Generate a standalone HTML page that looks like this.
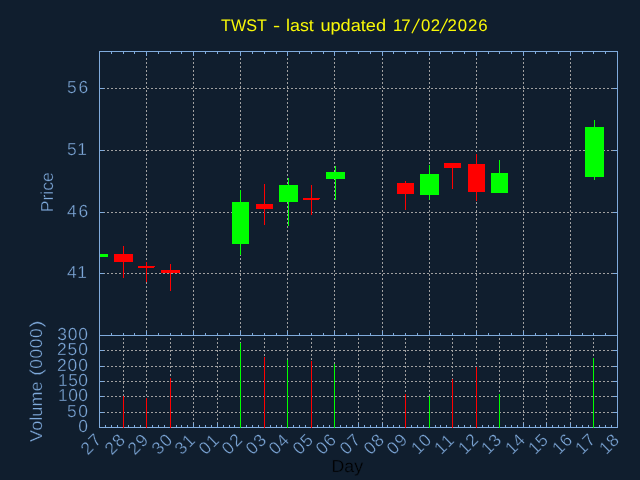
<!DOCTYPE html>
<html><head><meta charset="utf-8"><title>TWST</title>
<style>html,body{margin:0;padding:0;background:#101E2E;overflow:hidden}svg{display:block;will-change:transform}text{font-family:"Liberation Sans",sans-serif;font-size:17.4px;stroke:#101E2E;stroke-width:0.35px;text-rendering:geometricPrecision}text.t{stroke:none;font-size:16.8px}</style></head><body>
<svg width="640" height="480" viewBox="0 0 640 480">
<rect x="0" y="0" width="640" height="480" fill="#101E2E"/>
<g stroke="#A0A0A0" stroke-width="1" stroke-dasharray="2,2" fill="none" shape-rendering="crispEdges">
<line x1="146.5" y1="336" x2="146.5" y2="51"/>
<line x1="193.5" y1="336" x2="193.5" y2="51"/>
<line x1="240.5" y1="336" x2="240.5" y2="51"/>
<line x1="287.5" y1="336" x2="287.5" y2="51"/>
<line x1="334.5" y1="336" x2="334.5" y2="51"/>
<line x1="382.5" y1="336" x2="382.5" y2="51"/>
<line x1="429.5" y1="336" x2="429.5" y2="51"/>
<line x1="476.5" y1="336" x2="476.5" y2="51"/>
<line x1="523.5" y1="336" x2="523.5" y2="51"/>
<line x1="570.5" y1="336" x2="570.5" y2="51"/>
<line x1="99" y1="273.5" x2="618" y2="273.5"/>
<line x1="99" y1="212.5" x2="618" y2="212.5"/>
<line x1="99" y1="150.5" x2="618" y2="150.5"/>
<line x1="99" y1="88.5" x2="618" y2="88.5"/>
<line x1="123.5" y1="428" x2="123.5" y2="335"/>
<line x1="146.5" y1="428" x2="146.5" y2="335"/>
<line x1="170.5" y1="428" x2="170.5" y2="335"/>
<line x1="193.5" y1="428" x2="193.5" y2="335"/>
<line x1="217.5" y1="428" x2="217.5" y2="335"/>
<line x1="240.5" y1="428" x2="240.5" y2="335"/>
<line x1="264.5" y1="428" x2="264.5" y2="335"/>
<line x1="287.5" y1="428" x2="287.5" y2="335"/>
<line x1="311.5" y1="428" x2="311.5" y2="335"/>
<line x1="334.5" y1="428" x2="334.5" y2="335"/>
<line x1="358.5" y1="428" x2="358.5" y2="335"/>
<line x1="382.5" y1="428" x2="382.5" y2="335"/>
<line x1="405.5" y1="428" x2="405.5" y2="335"/>
<line x1="429.5" y1="428" x2="429.5" y2="335"/>
<line x1="452.5" y1="428" x2="452.5" y2="335"/>
<line x1="476.5" y1="428" x2="476.5" y2="335"/>
<line x1="499.5" y1="428" x2="499.5" y2="335"/>
<line x1="523.5" y1="428" x2="523.5" y2="335"/>
<line x1="546.5" y1="428" x2="546.5" y2="335"/>
<line x1="570.5" y1="428" x2="570.5" y2="335"/>
<line x1="593.5" y1="428" x2="593.5" y2="335"/>
<line x1="99" y1="412.5" x2="618" y2="412.5"/>
<line x1="99" y1="396.5" x2="618" y2="396.5"/>
<line x1="99" y1="381.5" x2="618" y2="381.5"/>
<line x1="99" y1="366.5" x2="618" y2="366.5"/>
<line x1="99" y1="350.5" x2="618" y2="350.5"/>
</g>
<g shape-rendering="crispEdges">
<rect x="100" y="254" width="8" height="3" fill="#00FF00"/>
<rect x="114" y="254" width="19" height="8" fill="#FF0000"/>
<rect x="123" y="246" width="1" height="32" fill="#FF0000"/>
<rect x="138" y="266" width="17" height="1" fill="#FF0000"/>
<rect x="146" y="262" width="1" height="20" fill="#FF0000"/>
<rect x="138" y="267" width="16" height="1" fill="#FF0000"/>
<rect x="161" y="270" width="19" height="3" fill="#FF0000"/>
<rect x="170" y="264" width="1" height="27" fill="#FF0000"/>
<rect x="232" y="202" width="17" height="42" fill="#00FF00"/>
<rect x="240" y="190" width="1" height="65" fill="#00FF00"/>
<rect x="256" y="204" width="17" height="5" fill="#FF0000"/>
<rect x="264" y="184" width="1" height="41" fill="#FF0000"/>
<rect x="279" y="185" width="19" height="17" fill="#00FF00"/>
<rect x="288" y="178" width="1" height="48" fill="#00FF00"/>
<rect x="303" y="198" width="17" height="1" fill="#FF0000"/>
<rect x="311" y="185" width="1" height="30" fill="#FF0000"/>
<rect x="303" y="199" width="16" height="1" fill="#FF0000"/>
<rect x="326" y="172" width="19" height="7" fill="#00FF00"/>
<rect x="335" y="166" width="1" height="34" fill="#00FF00"/>
<rect x="397" y="183" width="17" height="11" fill="#FF0000"/>
<rect x="405" y="181" width="1" height="29" fill="#FF0000"/>
<rect x="420" y="174" width="19" height="21" fill="#00FF00"/>
<rect x="429" y="165" width="1" height="35" fill="#00FF00"/>
<rect x="444" y="163" width="17" height="5" fill="#FF0000"/>
<rect x="452" y="163" width="1" height="26" fill="#FF0000"/>
<rect x="468" y="164" width="17" height="28" fill="#FF0000"/>
<rect x="476" y="154" width="1" height="47" fill="#FF0000"/>
<rect x="491" y="173" width="17" height="20" fill="#00FF00"/>
<rect x="499" y="160" width="1" height="33" fill="#00FF00"/>
<rect x="585" y="127" width="19" height="50" fill="#00FF00"/>
<rect x="594" y="120" width="1" height="60" fill="#00FF00"/>
</g>
<g stroke="#80ABDC" stroke-width="1" fill="none" shape-rendering="crispEdges">
<rect x="99.5" y="51.5" width="518" height="284"/>
<rect x="99.5" y="335.5" width="518" height="92"/>
<line x1="99.5" y1="336" x2="99.5" y2="331"/>
<line x1="99.5" y1="51" x2="99.5" y2="56"/>
<line x1="111.5" y1="336" x2="111.5" y2="333"/>
<line x1="111.5" y1="51" x2="111.5" y2="54"/>
<line x1="123.5" y1="336" x2="123.5" y2="333"/>
<line x1="123.5" y1="51" x2="123.5" y2="54"/>
<line x1="134.5" y1="336" x2="134.5" y2="333"/>
<line x1="134.5" y1="51" x2="134.5" y2="54"/>
<line x1="146.5" y1="336" x2="146.5" y2="331"/>
<line x1="146.5" y1="51" x2="146.5" y2="56"/>
<line x1="158.5" y1="336" x2="158.5" y2="333"/>
<line x1="158.5" y1="51" x2="158.5" y2="54"/>
<line x1="170.5" y1="336" x2="170.5" y2="333"/>
<line x1="170.5" y1="51" x2="170.5" y2="54"/>
<line x1="181.5" y1="336" x2="181.5" y2="333"/>
<line x1="181.5" y1="51" x2="181.5" y2="54"/>
<line x1="193.5" y1="336" x2="193.5" y2="331"/>
<line x1="193.5" y1="51" x2="193.5" y2="56"/>
<line x1="205.5" y1="336" x2="205.5" y2="333"/>
<line x1="205.5" y1="51" x2="205.5" y2="54"/>
<line x1="217.5" y1="336" x2="217.5" y2="333"/>
<line x1="217.5" y1="51" x2="217.5" y2="54"/>
<line x1="229.5" y1="336" x2="229.5" y2="333"/>
<line x1="229.5" y1="51" x2="229.5" y2="54"/>
<line x1="240.5" y1="336" x2="240.5" y2="331"/>
<line x1="240.5" y1="51" x2="240.5" y2="56"/>
<line x1="252.5" y1="336" x2="252.5" y2="333"/>
<line x1="252.5" y1="51" x2="252.5" y2="54"/>
<line x1="264.5" y1="336" x2="264.5" y2="333"/>
<line x1="264.5" y1="51" x2="264.5" y2="54"/>
<line x1="276.5" y1="336" x2="276.5" y2="333"/>
<line x1="276.5" y1="51" x2="276.5" y2="54"/>
<line x1="287.5" y1="336" x2="287.5" y2="331"/>
<line x1="287.5" y1="51" x2="287.5" y2="56"/>
<line x1="299.5" y1="336" x2="299.5" y2="333"/>
<line x1="299.5" y1="51" x2="299.5" y2="54"/>
<line x1="311.5" y1="336" x2="311.5" y2="333"/>
<line x1="311.5" y1="51" x2="311.5" y2="54"/>
<line x1="323.5" y1="336" x2="323.5" y2="333"/>
<line x1="323.5" y1="51" x2="323.5" y2="54"/>
<line x1="334.5" y1="336" x2="334.5" y2="331"/>
<line x1="334.5" y1="51" x2="334.5" y2="56"/>
<line x1="346.5" y1="336" x2="346.5" y2="333"/>
<line x1="346.5" y1="51" x2="346.5" y2="54"/>
<line x1="358.5" y1="336" x2="358.5" y2="333"/>
<line x1="358.5" y1="51" x2="358.5" y2="54"/>
<line x1="370.5" y1="336" x2="370.5" y2="333"/>
<line x1="370.5" y1="51" x2="370.5" y2="54"/>
<line x1="382.5" y1="336" x2="382.5" y2="331"/>
<line x1="382.5" y1="51" x2="382.5" y2="56"/>
<line x1="393.5" y1="336" x2="393.5" y2="333"/>
<line x1="393.5" y1="51" x2="393.5" y2="54"/>
<line x1="405.5" y1="336" x2="405.5" y2="333"/>
<line x1="405.5" y1="51" x2="405.5" y2="54"/>
<line x1="417.5" y1="336" x2="417.5" y2="333"/>
<line x1="417.5" y1="51" x2="417.5" y2="54"/>
<line x1="429.5" y1="336" x2="429.5" y2="331"/>
<line x1="429.5" y1="51" x2="429.5" y2="56"/>
<line x1="440.5" y1="336" x2="440.5" y2="333"/>
<line x1="440.5" y1="51" x2="440.5" y2="54"/>
<line x1="452.5" y1="336" x2="452.5" y2="333"/>
<line x1="452.5" y1="51" x2="452.5" y2="54"/>
<line x1="464.5" y1="336" x2="464.5" y2="333"/>
<line x1="464.5" y1="51" x2="464.5" y2="54"/>
<line x1="476.5" y1="336" x2="476.5" y2="331"/>
<line x1="476.5" y1="51" x2="476.5" y2="56"/>
<line x1="488.5" y1="336" x2="488.5" y2="333"/>
<line x1="488.5" y1="51" x2="488.5" y2="54"/>
<line x1="499.5" y1="336" x2="499.5" y2="333"/>
<line x1="499.5" y1="51" x2="499.5" y2="54"/>
<line x1="511.5" y1="336" x2="511.5" y2="333"/>
<line x1="511.5" y1="51" x2="511.5" y2="54"/>
<line x1="523.5" y1="336" x2="523.5" y2="331"/>
<line x1="523.5" y1="51" x2="523.5" y2="56"/>
<line x1="535.5" y1="336" x2="535.5" y2="333"/>
<line x1="535.5" y1="51" x2="535.5" y2="54"/>
<line x1="546.5" y1="336" x2="546.5" y2="333"/>
<line x1="546.5" y1="51" x2="546.5" y2="54"/>
<line x1="558.5" y1="336" x2="558.5" y2="333"/>
<line x1="558.5" y1="51" x2="558.5" y2="54"/>
<line x1="570.5" y1="336" x2="570.5" y2="331"/>
<line x1="570.5" y1="51" x2="570.5" y2="56"/>
<line x1="582.5" y1="336" x2="582.5" y2="333"/>
<line x1="582.5" y1="51" x2="582.5" y2="54"/>
<line x1="593.5" y1="336" x2="593.5" y2="333"/>
<line x1="593.5" y1="51" x2="593.5" y2="54"/>
<line x1="605.5" y1="336" x2="605.5" y2="333"/>
<line x1="605.5" y1="51" x2="605.5" y2="54"/>
<line x1="617.5" y1="336" x2="617.5" y2="331"/>
<line x1="617.5" y1="51" x2="617.5" y2="56"/>
<line x1="99" y1="273.5" x2="104" y2="273.5"/>
<line x1="618" y1="273.5" x2="613" y2="273.5"/>
<line x1="99" y1="212.5" x2="104" y2="212.5"/>
<line x1="618" y1="212.5" x2="613" y2="212.5"/>
<line x1="99" y1="150.5" x2="104" y2="150.5"/>
<line x1="618" y1="150.5" x2="613" y2="150.5"/>
<line x1="99" y1="88.5" x2="104" y2="88.5"/>
<line x1="618" y1="88.5" x2="613" y2="88.5"/>
<line x1="99.5" y1="428" x2="99.5" y2="423"/>
<line x1="105.5" y1="428" x2="105.5" y2="425"/>
<line x1="111.5" y1="428" x2="111.5" y2="425"/>
<line x1="117.5" y1="428" x2="117.5" y2="425"/>
<line x1="123.5" y1="428" x2="123.5" y2="423"/>
<line x1="128.5" y1="428" x2="128.5" y2="425"/>
<line x1="134.5" y1="428" x2="134.5" y2="425"/>
<line x1="140.5" y1="428" x2="140.5" y2="425"/>
<line x1="146.5" y1="428" x2="146.5" y2="423"/>
<line x1="152.5" y1="428" x2="152.5" y2="425"/>
<line x1="158.5" y1="428" x2="158.5" y2="425"/>
<line x1="164.5" y1="428" x2="164.5" y2="425"/>
<line x1="170.5" y1="428" x2="170.5" y2="423"/>
<line x1="176.5" y1="428" x2="176.5" y2="425"/>
<line x1="181.5" y1="428" x2="181.5" y2="425"/>
<line x1="187.5" y1="428" x2="187.5" y2="425"/>
<line x1="193.5" y1="428" x2="193.5" y2="423"/>
<line x1="199.5" y1="428" x2="199.5" y2="425"/>
<line x1="205.5" y1="428" x2="205.5" y2="425"/>
<line x1="211.5" y1="428" x2="211.5" y2="425"/>
<line x1="217.5" y1="428" x2="217.5" y2="423"/>
<line x1="223.5" y1="428" x2="223.5" y2="425"/>
<line x1="229.5" y1="428" x2="229.5" y2="425"/>
<line x1="234.5" y1="428" x2="234.5" y2="425"/>
<line x1="240.5" y1="428" x2="240.5" y2="423"/>
<line x1="246.5" y1="428" x2="246.5" y2="425"/>
<line x1="252.5" y1="428" x2="252.5" y2="425"/>
<line x1="258.5" y1="428" x2="258.5" y2="425"/>
<line x1="264.5" y1="428" x2="264.5" y2="423"/>
<line x1="270.5" y1="428" x2="270.5" y2="425"/>
<line x1="276.5" y1="428" x2="276.5" y2="425"/>
<line x1="281.5" y1="428" x2="281.5" y2="425"/>
<line x1="287.5" y1="428" x2="287.5" y2="423"/>
<line x1="293.5" y1="428" x2="293.5" y2="425"/>
<line x1="299.5" y1="428" x2="299.5" y2="425"/>
<line x1="305.5" y1="428" x2="305.5" y2="425"/>
<line x1="311.5" y1="428" x2="311.5" y2="423"/>
<line x1="317.5" y1="428" x2="317.5" y2="425"/>
<line x1="323.5" y1="428" x2="323.5" y2="425"/>
<line x1="329.5" y1="428" x2="329.5" y2="425"/>
<line x1="334.5" y1="428" x2="334.5" y2="423"/>
<line x1="340.5" y1="428" x2="340.5" y2="425"/>
<line x1="346.5" y1="428" x2="346.5" y2="425"/>
<line x1="352.5" y1="428" x2="352.5" y2="425"/>
<line x1="358.5" y1="428" x2="358.5" y2="423"/>
<line x1="364.5" y1="428" x2="364.5" y2="425"/>
<line x1="370.5" y1="428" x2="370.5" y2="425"/>
<line x1="376.5" y1="428" x2="376.5" y2="425"/>
<line x1="382.5" y1="428" x2="382.5" y2="423"/>
<line x1="387.5" y1="428" x2="387.5" y2="425"/>
<line x1="393.5" y1="428" x2="393.5" y2="425"/>
<line x1="399.5" y1="428" x2="399.5" y2="425"/>
<line x1="405.5" y1="428" x2="405.5" y2="423"/>
<line x1="411.5" y1="428" x2="411.5" y2="425"/>
<line x1="417.5" y1="428" x2="417.5" y2="425"/>
<line x1="423.5" y1="428" x2="423.5" y2="425"/>
<line x1="429.5" y1="428" x2="429.5" y2="423"/>
<line x1="435.5" y1="428" x2="435.5" y2="425"/>
<line x1="440.5" y1="428" x2="440.5" y2="425"/>
<line x1="446.5" y1="428" x2="446.5" y2="425"/>
<line x1="452.5" y1="428" x2="452.5" y2="423"/>
<line x1="458.5" y1="428" x2="458.5" y2="425"/>
<line x1="464.5" y1="428" x2="464.5" y2="425"/>
<line x1="470.5" y1="428" x2="470.5" y2="425"/>
<line x1="476.5" y1="428" x2="476.5" y2="423"/>
<line x1="482.5" y1="428" x2="482.5" y2="425"/>
<line x1="488.5" y1="428" x2="488.5" y2="425"/>
<line x1="493.5" y1="428" x2="493.5" y2="425"/>
<line x1="499.5" y1="428" x2="499.5" y2="423"/>
<line x1="505.5" y1="428" x2="505.5" y2="425"/>
<line x1="511.5" y1="428" x2="511.5" y2="425"/>
<line x1="517.5" y1="428" x2="517.5" y2="425"/>
<line x1="523.5" y1="428" x2="523.5" y2="423"/>
<line x1="529.5" y1="428" x2="529.5" y2="425"/>
<line x1="535.5" y1="428" x2="535.5" y2="425"/>
<line x1="540.5" y1="428" x2="540.5" y2="425"/>
<line x1="546.5" y1="428" x2="546.5" y2="423"/>
<line x1="552.5" y1="428" x2="552.5" y2="425"/>
<line x1="558.5" y1="428" x2="558.5" y2="425"/>
<line x1="564.5" y1="428" x2="564.5" y2="425"/>
<line x1="570.5" y1="428" x2="570.5" y2="423"/>
<line x1="576.5" y1="428" x2="576.5" y2="425"/>
<line x1="582.5" y1="428" x2="582.5" y2="425"/>
<line x1="588.5" y1="428" x2="588.5" y2="425"/>
<line x1="593.5" y1="428" x2="593.5" y2="423"/>
<line x1="599.5" y1="428" x2="599.5" y2="425"/>
<line x1="605.5" y1="428" x2="605.5" y2="425"/>
<line x1="611.5" y1="428" x2="611.5" y2="425"/>
<line x1="617.5" y1="428" x2="617.5" y2="423"/>
<line x1="99" y1="412.5" x2="104" y2="412.5"/>
<line x1="618" y1="412.5" x2="613" y2="412.5"/>
<line x1="99" y1="396.5" x2="104" y2="396.5"/>
<line x1="618" y1="396.5" x2="613" y2="396.5"/>
<line x1="99" y1="381.5" x2="104" y2="381.5"/>
<line x1="618" y1="381.5" x2="613" y2="381.5"/>
<line x1="99" y1="366.5" x2="104" y2="366.5"/>
<line x1="618" y1="366.5" x2="613" y2="366.5"/>
<line x1="99" y1="350.5" x2="104" y2="350.5"/>
<line x1="618" y1="350.5" x2="613" y2="350.5"/>
</g>
<g>
<rect x="123" y="396" width="1" height="32" fill="#FF0000"/>
<rect x="146" y="398" width="1" height="30" fill="#FF0000"/>
<rect x="170" y="378" width="1" height="50" fill="#FF0000"/>
<rect x="240" y="343" width="1" height="85" fill="#00FF00"/>
<rect x="264" y="357" width="1" height="71" fill="#FF0000"/>
<rect x="287" y="360" width="1" height="68" fill="#00FF00"/>
<rect x="311" y="361" width="1" height="67" fill="#FF0000"/>
<rect x="334" y="364" width="1" height="64" fill="#00FF00"/>
<rect x="405" y="394" width="1" height="34" fill="#FF0000"/>
<rect x="429" y="396" width="1" height="32" fill="#00FF00"/>
<rect x="452" y="379" width="1" height="49" fill="#FF0000"/>
<rect x="476" y="367" width="1" height="61" fill="#FF0000"/>
<rect x="499" y="394" width="1" height="34" fill="#00FF00"/>
<rect x="593" y="358" width="1" height="70" fill="#00FF00"/>
</g>
<text class="t" x="221.06" y="30.80" fill="#F8F808" textLength="45.75" lengthAdjust="spacingAndGlyphs">TWST</text>
<text class="t" x="273.00" y="30.80" fill="#F8F808" textLength="7.13" lengthAdjust="spacingAndGlyphs">-</text>
<text class="t" x="286.04" y="30.80" fill="#F8F808" textLength="27.82" lengthAdjust="spacingAndGlyphs">last</text>
<text class="t" x="320.40" y="30.80" fill="#F8F808" textLength="65.62" lengthAdjust="spacingAndGlyphs">updated</text>
<text class="t" x="393.10" y="30.80" fill="#F8F808" textLength="17.38" lengthAdjust="spacing">17</text>
<text class="t" x="420.92" y="30.80" fill="#F8F808" textLength="19.11" lengthAdjust="spacing">02</text>
<text class="t" x="447.49" y="30.80" fill="#F8F808" textLength="40.17" lengthAdjust="spacing">2026</text>
<line x1="411.90" y1="33.2" x2="419.40" y2="18.6" stroke="#F8F808" stroke-width="1.25"/>
<line x1="440.10" y1="33.2" x2="447.60" y2="18.6" stroke="#F8F808" stroke-width="1.25"/>
<text x="66.91" y="93.10" fill="#80ABDC" textLength="21.24" lengthAdjust="spacing">56</text>
<text x="66.91" y="155.10" fill="#80ABDC" textLength="20.01" lengthAdjust="spacing">51</text>
<text x="66.97" y="217.10" fill="#80ABDC" textLength="21.25" lengthAdjust="spacing">46</text>
<text x="66.97" y="278.10" fill="#80ABDC" textLength="19.91" lengthAdjust="spacing">41</text>
<text x="57.13" y="340.10" fill="#80ABDC" textLength="30.70" lengthAdjust="spacing">300</text>
<text x="57.04" y="355.10" fill="#80ABDC" textLength="30.83" lengthAdjust="spacing">250</text>
<text x="57.04" y="371.10" fill="#80ABDC" textLength="30.83" lengthAdjust="spacing">200</text>
<text x="58.01" y="386.10" fill="#80ABDC" textLength="29.91" lengthAdjust="spacing">150</text>
<text x="58.01" y="401.10" fill="#80ABDC" textLength="29.91" lengthAdjust="spacing">100</text>
<text x="66.91" y="417.10" fill="#80ABDC" textLength="21.08" lengthAdjust="spacing">50</text>
<text x="78.20" y="432.10" fill="#80ABDC">0</text>
<g transform="translate(53.2,211.0) rotate(-90)">
<text x="-1.24" y="0.00" fill="#80ABDC" textLength="40.07" lengthAdjust="spacingAndGlyphs">Price</text>
</g>
<g transform="translate(42.3,441.6) rotate(-90)">
<text x="-0.30" y="0.00" fill="#80ABDC" textLength="60.63" lengthAdjust="spacingAndGlyphs">Volume</text>
<text x="65.96" y="0.00" fill="#80ABDC" textLength="6.67" lengthAdjust="spacingAndGlyphs">(</text>
<text x="72.80" y="0.00" fill="#80ABDC" textLength="40.55" lengthAdjust="spacing">0000</text>
<text x="114.19" y="0.00" fill="#80ABDC" textLength="6.92" lengthAdjust="spacingAndGlyphs">)</text>
</g>
<g transform="translate(97.90,437.70) rotate(-45)">
<text x="-19.91" y="5.50" fill="#80ABDC" textLength="20.80" lengthAdjust="spacing">27</text>
</g>
<g transform="translate(121.90,437.70) rotate(-45)">
<text x="-19.91" y="5.50" fill="#80ABDC" textLength="20.45" lengthAdjust="spacing">28</text>
</g>
<g transform="translate(144.90,437.70) rotate(-45)">
<text x="-19.91" y="5.50" fill="#80ABDC" textLength="20.57" lengthAdjust="spacing">29</text>
</g>
<g transform="translate(168.90,437.70) rotate(-45)">
<text x="-19.82" y="5.50" fill="#80ABDC" textLength="20.48" lengthAdjust="spacing">30</text>
</g>
<g transform="translate(191.90,437.70) rotate(-45)">
<text x="-19.82" y="5.50" fill="#80ABDC" textLength="20.08" lengthAdjust="spacing">31</text>
</g>
<g transform="translate(215.90,437.70) rotate(-45)">
<text x="-19.70" y="5.50" fill="#80ABDC" textLength="20.06" lengthAdjust="spacing">01</text>
</g>
<g transform="translate(238.90,437.70) rotate(-45)">
<text x="-19.70" y="5.50" fill="#80ABDC" textLength="20.62" lengthAdjust="spacing">02</text>
</g>
<g transform="translate(262.90,437.70) rotate(-45)">
<text x="-19.70" y="5.50" fill="#80ABDC" textLength="20.34" lengthAdjust="spacing">03</text>
</g>
<g transform="translate(285.90,437.70) rotate(-45)">
<text x="-19.70" y="5.50" fill="#80ABDC" textLength="20.07" lengthAdjust="spacing">04</text>
</g>
<g transform="translate(309.90,437.70) rotate(-45)">
<text x="-19.70" y="5.50" fill="#80ABDC" textLength="20.23" lengthAdjust="spacing">05</text>
</g>
<g transform="translate(332.90,437.70) rotate(-45)">
<text x="-19.70" y="5.50" fill="#80ABDC" textLength="20.23" lengthAdjust="spacing">06</text>
</g>
<g transform="translate(356.90,437.70) rotate(-45)">
<text x="-19.70" y="5.50" fill="#80ABDC" textLength="20.47" lengthAdjust="spacing">07</text>
</g>
<g transform="translate(380.90,437.70) rotate(-45)">
<text x="-19.70" y="5.50" fill="#80ABDC" textLength="20.28" lengthAdjust="spacing">08</text>
</g>
<g transform="translate(403.90,437.70) rotate(-45)">
<text x="-19.70" y="5.50" fill="#80ABDC" textLength="20.55" lengthAdjust="spacing">09</text>
</g>
<g transform="translate(427.90,437.70) rotate(-45)">
<text x="-19.19" y="5.50" fill="#80ABDC" textLength="19.84" lengthAdjust="spacing">10</text>
</g>
<g transform="translate(450.90,437.70) rotate(-45)">
<text x="-19.19" y="5.50" fill="#80ABDC" textLength="19.43" lengthAdjust="spacing">11</text>
</g>
<g transform="translate(474.90,437.70) rotate(-45)">
<text x="-19.19" y="5.50" fill="#80ABDC" textLength="20.01" lengthAdjust="spacing">12</text>
</g>
<g transform="translate(497.90,437.70) rotate(-45)">
<text x="-19.19" y="5.50" fill="#80ABDC" textLength="19.85" lengthAdjust="spacing">13</text>
</g>
<g transform="translate(521.90,437.70) rotate(-45)">
<text x="-19.19" y="5.50" fill="#80ABDC" textLength="19.70" lengthAdjust="spacing">14</text>
</g>
<g transform="translate(544.90,437.70) rotate(-45)">
<text x="-19.19" y="5.50" fill="#80ABDC" textLength="19.77" lengthAdjust="spacing">15</text>
</g>
<g transform="translate(568.90,437.70) rotate(-45)">
<text x="-19.19" y="5.50" fill="#80ABDC" textLength="19.80" lengthAdjust="spacing">16</text>
</g>
<g transform="translate(591.90,437.70) rotate(-45)">
<text x="-19.19" y="5.50" fill="#80ABDC" textLength="20.05" lengthAdjust="spacing">17</text>
</g>
<g transform="translate(615.90,437.70) rotate(-45)">
<text x="-19.19" y="5.50" fill="#80ABDC" textLength="19.77" lengthAdjust="spacing">18</text>
</g>
<text x="331.54" y="471.60" fill="#000000" textLength="31.52" lengthAdjust="spacingAndGlyphs">Day</text>
</svg></body></html>
